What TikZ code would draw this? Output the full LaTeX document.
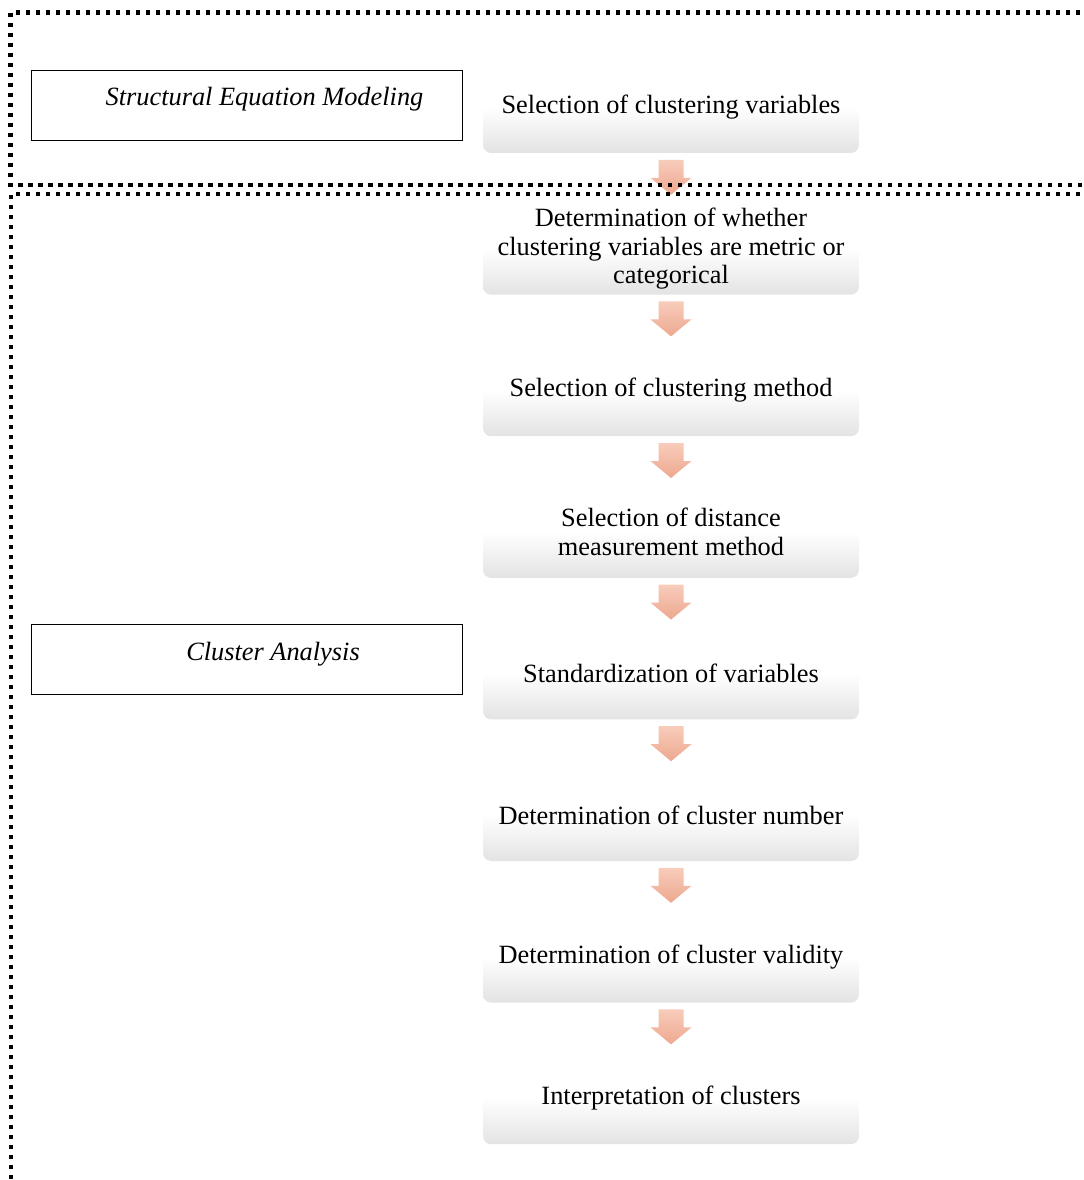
\documentclass[tikz,border=0pt]{standalone}
\usepackage{fontspec}
\setmainfont{Liberation Serif}
\usetikzlibrary{calc}
\definecolor{arrowtop}{HTML}{F8CCBB}
\definecolor{arrowbot}{HTML}{EDA88F}

\begin{document}
\begin{tikzpicture}[
	x=0.02cm, y=-0.02cm,
	stepbox/.style={ rectangle, rounded corners=0.16cm, minimum width=7.52cm, minimum height=1.84cm, inner sep=0pt, align=center, font=\fontsize{15}{16}\selectfont, top color=white, bottom color=gray!22, middle color=white },
	tagbox/.style={ rectangle, draw, thin, minimum width=8.62cm, minimum height=1.4cm, inner sep=0pt },
	tagtext/.style={ inner sep=0pt, font=\fontsize{15}{16}\selectfont\itshape },
	blockarrow/.style={ top color=arrowtop, bottom color=arrowbot },
	frameline/.style={ line width=0.085cm, dash pattern=on 0.085cm off 0.115cm }
]
\useasboundingbox (0,0) rectangle (1084,1180);

\node at (671,107) (b1) [stepbox] {Selection of clustering variables};
\node at (671,248.6) (b2) [stepbox] {Determination of whether\\clustering variables are metric or\\categorical};
\node at (671,390.2) (b3) [stepbox] {Selection of clustering method};
\node at (671,531.8) (b4) [stepbox] {Selection of distance\\measurement method};
\node at (671,673.4) (b5) [stepbox] {Standardization of variables};
\node at (671,815) (b6) [stepbox] {Determination of cluster number};
\node at (671,956.6) (b7) [stepbox] {Determination of cluster validity};
\node at (671,1098.2) (b8) [stepbox] {Interpretation of clusters};

\node at (246.5,105) (sem) [tagbox] {};
\node at ($(sem)+(18,-6)$) (semtext) [tagtext] {Structural Equation Modeling};
\node at (246.5,659.5) (clus) [tagbox] {};
\node at ($(clus)+(26.5,-5.5)$) (clustext) [tagtext] {Cluster Analysis};

\foreach \i/\j in {1/2,2/3,3/4,4/5,5/6,6/7,7/8} {
	\coordinate (m\i) at ($(b\i.south)!0.5!(b\j.north)$);
	\shade[blockarrow] ($(m\i)+(-12.5,-18)$) -- ($(m\i)+(12.5,-18)$) -- ($(m\i)+(12.5,0)$) -- ($(m\i)+(20.5,0)$)
		-- ($(m\i)+(0,17)$) -- ($(m\i)+(-20.5,0)$) -- ($(m\i)+(-12.5,0)$) -- cycle;
}

\draw[frameline] (1090,12.5) -- (10.5,12.5) -- (10.5,185) -- (1090,185);
\draw[frameline] (1090,194) -- (11,194) -- (11,1190);

\end{tikzpicture}
\end{document}
